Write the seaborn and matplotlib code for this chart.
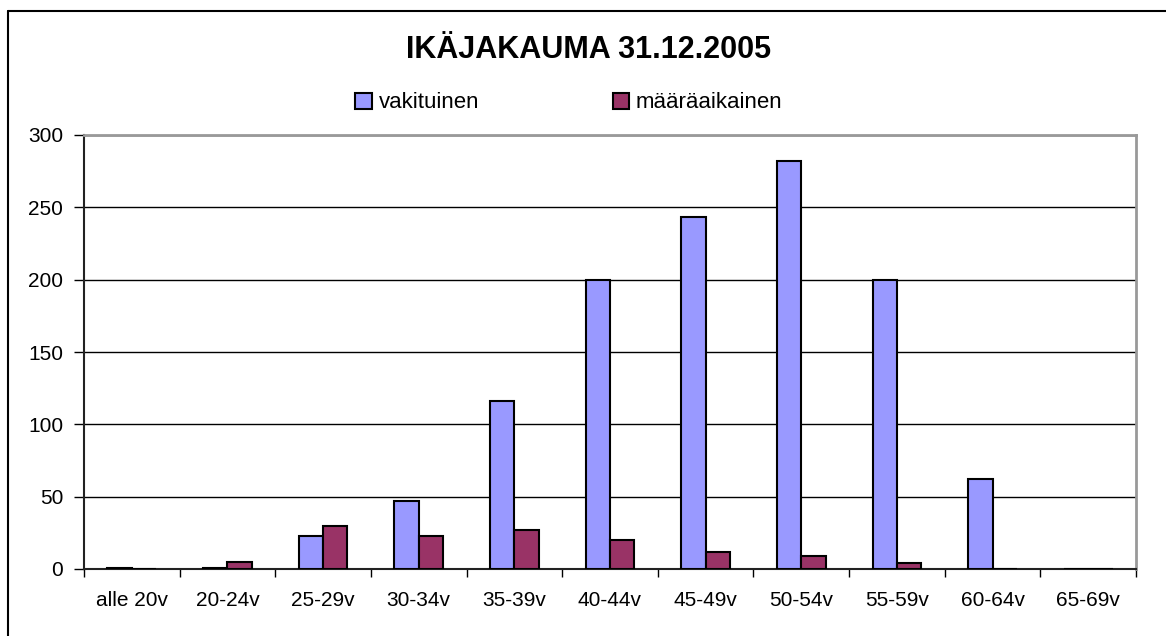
import numpy as np
import pandas as pd
import matplotlib
matplotlib.use("Agg")
import matplotlib.pyplot as plt
import seaborn as sns
from matplotlib.lines import Line2D

# --- data ---
age_groups = ["alle 20v", "20-24v", "25-29v", "30-34v", "35-39v", "40-44v",
              "45-49v", "50-54v", "55-59v", "60-64v", "65-69v"]
vakituinen = [1, 1, 23, 47, 116, 200, 243, 282, 200, 62, 0]
maaraaikainen = [0, 5, 30, 23, 27, 20, 12, 9, 4, 0, 0]
series_names = ["vakituinen", "määräaikainen"]
series_colors = ["#9999FF", "#993366"]
y_ticks = [0, 50, 100, 150, 200, 250, 300]

df = pd.DataFrame({
    "ikä": age_groups * 2,
    "lkm": vakituinen + maaraaikainen,
    "tyyppi": [series_names[0]] * len(age_groups) + [series_names[1]] * len(age_groups),
})

sns.set_style("white")
plt.rcParams["font.family"] = ["Liberation Sans", "DejaVu Sans"]
plt.rcParams["text.color"] = "black"
plt.rcParams["xtick.color"] = "black"
plt.rcParams["ytick.color"] = "black"
plt.rcParams["xtick.labelcolor"] = "black"
plt.rcParams["ytick.labelcolor"] = "black"

fig = plt.figure(figsize=(11.66, 6.36), dpi=100)
ax = fig.add_axes([84 / 1166, 67 / 636, (1136 - 84) / 1166, (569 - 135) / 636])

sns.barplot(data=df, x="ikä", y="lkm", hue="tyyppi", order=age_groups,
            hue_order=series_names, palette=series_colors, width=0.51,
            edgecolor="black", linewidth=1.5, saturation=1, ax=ax, zorder=3)

ax.set_xlim(-0.5, len(age_groups) - 0.5)
ax.set_ylim(0, 300)
ax.set_yticks(y_ticks)
ax.set_xlabel("")
ax.set_ylabel("")
ax.yaxis.grid(True, color="black", linewidth=1.0, zorder=0)
ax.set_axisbelow(True)

# ticks: y outward, x at category boundaries
ax.tick_params(axis="y", direction="out", length=7, width=1, color="black",
               labelsize=15, labelcolor="black", pad=8, left=True)
ax.set_xticks(np.arange(-0.5, len(age_groups)), minor=True)
ax.tick_params(axis="x", which="minor", direction="out", length=6, width=1,
               color="black", bottom=True)
ax.tick_params(axis="x", which="major", length=0, labelsize=15,
               labelcolor="black", pad=16)

for side in ["left", "bottom"]:
    ax.spines[side].set_color("#222222")
    ax.spines[side].set_linewidth(1.5)
for side in ["top", "right"]:
    ax.spines[side].set_color("#999999")
    ax.spines[side].set_linewidth(2)

handles, labels = ax.get_legend_handles_labels()
ax.get_legend().remove()
fig.legend(handles, labels, loc="center", bbox_to_anchor=(569 / 1166, 1 - 103 / 636),
           ncol=2, frameon=False, fontsize=16, handlelength=0.75, handleheight=0.75,
           handletextpad=0.3, columnspacing=6.0, labelcolor="black")

fig.text(589 / 1166, 1 - 50 / 636, "IKÄJAKAUMA 31.12.2005", ha="center", va="center",
         fontsize=22, fontweight="bold", color="black")

# outer chart frame (only left and top edges are inside the picture)
fig.add_artist(Line2D([8 / 1166, 8 / 1166], [0, 1 - 11 / 636], transform=fig.transFigure,
                      color="black", linewidth=1.5))
fig.add_artist(Line2D([8 / 1166, 1], [1 - 11 / 636, 1 - 11 / 636], transform=fig.transFigure,
                      color="black", linewidth=1.5))

fig.savefig("out.png", dpi=100)
